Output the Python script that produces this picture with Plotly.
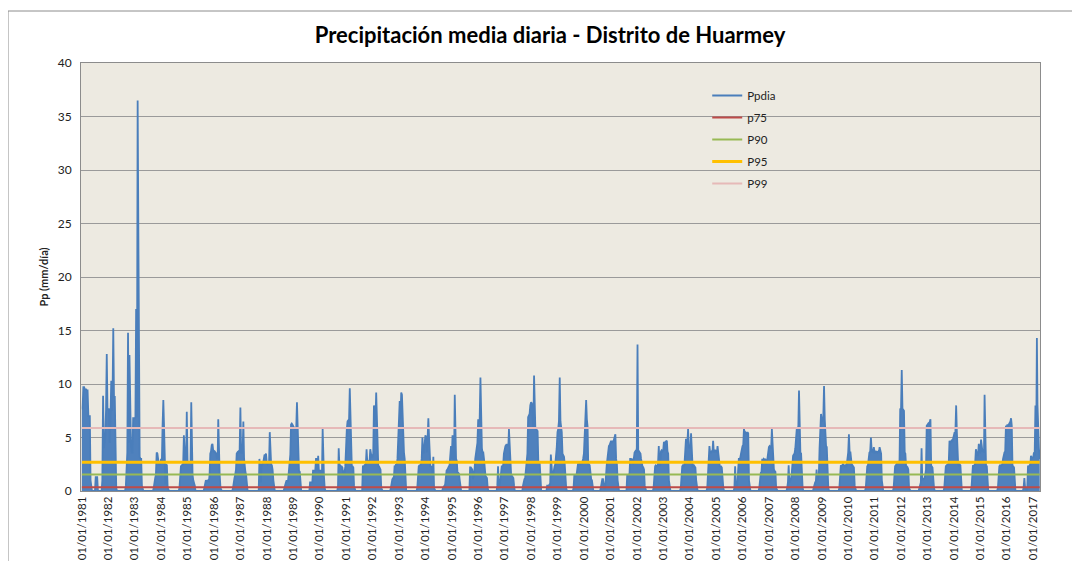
import datetime as dt
import plotly.graph_objects as go

# ---------------- data ----------------
# Wet-season envelopes of daily precipitation (mm/día), one value per dekad
# (days 1, 11, 21 of each month) starting at season_start; dry season ~0.
season_start = [
    "1981-01-01", "1981-07-11", "1981-10-11", "1982-09-01", "1983-09-21",
    "1984-09-11", "1985-08-21", "1986-09-21", "1987-09-21", "1988-09-01",
    "1989-08-21", "1990-09-11", "1991-08-21", "1992-09-11", "1993-09-11",
    "1994-09-01", "1995-09-11", "1996-09-21", "1997-09-11", "1998-08-11",
    "1999-08-11", "2000-08-21", "2001-08-21", "2002-08-21", "2003-09-01",
    "2004-09-01", "2005-09-11", "2006-08-21", "2007-09-11", "2008-09-11",
    "2009-09-01", "2010-09-01", "2011-09-21", "2012-09-11", "2013-08-21",
    "2014-09-01", "2015-09-01", "2016-08-21",
]
season_values = [
    [7.7, 7.7, 9.7, 9.7, 9.5, 9.5, 9.5, 9.4, 9.4, 7.0, 7.0, 7.0, 1.0, 0.0],
    [1.3, 1.3, 1.3, 0.0],
    [1.0, 8.9, 4.0, 4.5, 5.0, 7.6, 12.8, 7.7, 7.6, 7.7, 4.5, 7.0, 10.3, 7.5, 8.8, 15.2, 8.8, 8.8, 3.0, 0.3, 0.0],
    [0.5, 3.6, 3.6, 14.8, 4.5, 12.7, 4.5, 4.2, 3.6, 3.6, 6.8, 6.8, 6.8, 6.9, 17.0, 6.9, 36.5, 23.9, 9.7, 3.2, 3.0, 3.0, 0.5, 0.0],
    [0.3, 1.2, 1.2, 1.5, 3.6, 3.5, 2.5, 2.5, 2.5, 2.6, 3.0, 2.6, 6.0, 8.5, 6.0, 2.0, 0.6, 2.5, 2.4, 0.3, 0.0],
    [0.3, 2.3, 2.3, 2.4, 2.5, 2.5, 5.2, 2.5, 2.5, 2.6, 7.4, 2.6, 2.6, 2.7, 2.6, 2.6, 8.3, 2.6, 1.5, 1.0, 0.8, 0.5, 0.0],
    [0.3, 1.0, 1.0, 0.9, 1.0, 1.0, 0.8, 1.5, 3.5, 3.7, 4.3, 4.4, 3.8, 3.6, 3.7, 3.6, 3.5, 3.0, 3.2, 6.7, 3.0, 1.5, 0.3, 0.0],
    [0.3, 1.0, 1.2, 1.5, 2.0, 3.5, 3.6, 3.5, 3.8, 3.6, 7.8, 3.6, 3.5, 3.7, 6.5, 3.0, 2.0, 1.8, 1.5, 0.3, 0.0],
    [3.0, 0.8, 0.8, 2.5, 2.5, 2.6, 3.3, 3.4, 3.3, 3.5, 2.6, 2.5, 2.6, 2.6, 5.5, 2.5, 2.5, 2.4, 2.0, 1.0, 0.3, 0.0],
    [0.3, 0.8, 0.8, 1.0, 0.8, 1.0, 2.0, 3.3, 3.4, 6.2, 6.3, 6.2, 6.0, 5.9, 5.8, 5.8, 5.9, 8.3, 5.8, 5.0, 1.9, 1.8, 0.8, 0.0],
    [0.8, 0.8, 0.8, 0.8, 1.9, 1.9, 1.9, 1.9, 3.0, 3.0, 1.9, 3.3, 1.9, 1.9, 1.9, 1.4, 1.4, 5.8, 1.4, 1.4, 0.3, 0.0],
    [0.5, 4.0, 2.3, 2.4, 2.3, 2.3, 2.2, 1.7, 1.8, 1.7, 2.3, 5.0, 5.8, 6.5, 6.7, 6.7, 9.6, 7.5, 2.4, 2.3, 2.3, 2.2, 0.5, 0.0],
    [2.3, 2.3, 2.4, 2.3, 2.5, 3.9, 2.7, 2.7, 2.8, 2.7, 3.9, 3.1, 3.1, 3.2, 3.5, 8.0, 6.7, 6.6, 9.2, 6.7, 3.8, 2.3, 2.3, 2.2, 2.0, 0.3, 0.0],
    [0.3, 1.1, 1.1, 1.2, 1.1, 2.3, 2.3, 2.5, 2.4, 3.0, 5.5, 8.0, 8.4, 6.7, 9.2, 9.0, 6.7, 5.0, 3.6, 3.0, 0.5, 0.0],
    [0.3, 2.3, 2.3, 2.4, 2.4, 2.5, 3.0, 5.0, 3.5, 3.6, 5.0, 5.2, 5.0, 3.6, 5.0, 6.8, 5.0, 3.6, 2.3, 2.3, 2.2, 1.5, 3.2, 0.3, 0.0],
    [0.3, 0.5, 0.5, 0.6, 1.9, 1.9, 2.0, 2.3, 2.3, 2.4, 3.0, 4.2, 3.0, 5.2, 3.0, 3.0, 9.0, 3.0, 3.0, 2.8, 1.7, 1.7, 1.6, 1.0, 0.3, 0.0],
    [2.2, 2.2, 2.1, 2.0, 1.1, 1.5, 2.0, 3.0, 3.9, 4.0, 4.5, 6.7, 6.5, 6.6, 10.6, 6.1, 4.0, 3.6, 3.6, 3.0, 1.4, 1.4, 1.3, 1.2, 0.3, 0.0],
    [0.5, 2.3, 0.6, 0.5, 1.0, 2.0, 2.3, 2.3, 2.4, 3.5, 4.2, 4.2, 4.3, 4.2, 4.4, 4.2, 5.8, 4.2, 4.0, 1.4, 1.4, 1.3, 1.2, 0.5, 0.0],
    [0.5, 1.1, 1.1, 1.2, 2.3, 2.5, 3.5, 6.9, 7.0, 7.2, 8.0, 8.3, 8.2, 6.0, 5.8, 10.8, 5.8, 5.8, 5.8, 5.7, 5.6, 2.7, 2.7, 2.5, 0.5, 0.0],
    [0.5, 0.5, 0.5, 0.6, 0.5, 3.4, 1.4, 1.4, 1.5, 2.3, 2.3, 2.5, 3.0, 4.0, 5.5, 5.8, 6.5, 10.6, 6.5, 5.8, 5.5, 3.5, 3.3, 3.2, 2.5, 1.0, 0.3, 0.0],
    [0.3, 1.4, 1.4, 1.4, 1.5, 2.5, 2.5, 2.5, 2.6, 2.5, 2.6, 2.5, 2.7, 3.0, 3.5, 5.2, 5.5, 8.5, 6.7, 6.0, 2.5, 2.5, 2.4, 1.1, 1.1, 1.0, 0.3, 0.0],
    [0.3, 1.1, 1.1, 1.1, 0.3, 0.2, 0.3, 2.3, 2.4, 3.0, 4.0, 4.2, 4.3, 4.5, 4.7, 4.5, 4.7, 4.6, 4.8, 5.0, 5.3, 3.0, 2.5, 1.0, 0.3, 0.0],
    [1.4, 1.4, 1.5, 1.4, 3.0, 3.0, 2.9, 3.0, 2.5, 3.6, 3.6, 3.7, 3.6, 4.0, 13.7, 3.6, 3.7, 3.6, 3.5, 3.0, 2.3, 2.3, 2.2, 2.0, 0.5, 0.0],
    [0.3, 2.3, 2.3, 2.4, 2.3, 2.3, 2.5, 4.2, 2.4, 2.4, 3.7, 3.8, 3.7, 3.8, 4.6, 3.8, 4.6, 4.7, 4.7, 3.7, 3.5, 1.0, 0.3, 0.0],
    [0.3, 2.3, 2.3, 2.4, 2.3, 2.4, 4.5, 4.8, 4.8, 4.5, 5.8, 4.0, 4.2, 4.0, 5.4, 3.0, 2.3, 2.3, 2.4, 2.3, 2.2, 1.0, 0.3, 0.0],
    [0.3, 2.3, 2.4, 4.2, 3.6, 3.6, 3.7, 3.6, 4.7, 3.6, 3.8, 3.8, 3.7, 3.6, 4.2, 3.5, 2.5, 2.3, 2.3, 2.3, 2.2, 1.0, 0.3, 0.0],
    [0.3, 2.3, 0.5, 0.5, 0.6, 2.0, 3.0, 3.0, 3.1, 3.5, 4.0, 4.2, 4.3, 5.8, 5.5, 5.5, 5.4, 5.3, 5.5, 5.4, 1.0, 0.3, 0.0],
    [0.3, 1.7, 1.7, 1.8, 3.0, 2.9, 3.0, 2.9, 3.0, 2.8, 2.5, 3.0, 4.0, 4.1, 4.2, 4.1, 4.0, 5.8, 4.1, 2.0, 2.0, 1.9, 1.8, 0.3, 0.0],
    [0.3, 0.8, 2.4, 0.8, 1.1, 1.1, 1.5, 3.3, 3.3, 3.4, 3.5, 4.0, 5.8, 5.8, 5.9, 5.8, 9.4, 3.6, 3.6, 3.5, 1.0, 0.3, 0.0],
    [0.3, 0.8, 0.8, 0.9, 2.0, 1.0, 1.2, 1.5, 4.0, 6.5, 7.2, 6.7, 6.6, 6.7, 9.8, 6.7, 4.2, 4.2, 4.1, 1.0, 0.3, 0.0],
    [0.3, 2.3, 2.4, 2.3, 2.4, 2.5, 2.4, 2.3, 2.4, 2.3, 2.4, 3.0, 3.6, 5.3, 3.6, 3.6, 2.3, 2.3, 2.4, 2.3, 2.2, 0.5, 0.0],
    [0.3, 2.3, 2.3, 2.4, 3.6, 3.6, 3.7, 5.0, 3.8, 3.6, 3.7, 4.1, 3.6, 3.6, 3.7, 3.6, 3.6, 3.7, 3.6, 4.1, 3.6, 3.5, 1.0, 0.3, 0.0],
    [0.3, 2.3, 2.3, 2.4, 2.5, 2.7, 2.7, 2.6, 2.7, 7.7, 7.6, 11.3, 7.7, 7.6, 7.5, 3.6, 3.5, 2.3, 2.3, 2.2, 2.0, 0.3, 0.0],
    [0.3, 0.8, 0.8, 4.0, 1.1, 1.1, 1.2, 1.2, 1.5, 2.0, 6.1, 6.2, 6.3, 6.2, 6.5, 6.7, 2.3, 2.3, 2.2, 1.0, 0.3, 0.0],
    [0.3, 2.3, 2.3, 2.4, 2.5, 2.5, 2.5, 4.7, 4.5, 4.6, 4.7, 4.6, 5.0, 5.5, 5.5, 5.4, 8.0, 5.5, 2.5, 2.5, 2.4, 2.5, 2.4, 0.5, 0.0],
    [0.3, 2.3, 2.4, 2.3, 2.4, 2.5, 3.9, 3.3, 3.3, 3.4, 4.4, 3.5, 3.6, 4.8, 3.8, 3.6, 3.7, 3.6, 9.0, 3.6, 2.3, 2.3, 0.5, 0.0],
    [0.3, 2.3, 2.3, 2.4, 2.3, 2.4, 2.5, 3.0, 3.6, 3.6, 3.7, 6.1, 6.0, 6.2, 6.1, 6.2, 6.3, 6.5, 6.8, 6.1, 2.3, 2.3, 2.2, 0.5, 0.0],
    [0.3, 1.2, 0.3, 0.0, 0.0, 0.3, 2.3, 2.3, 2.4, 2.3, 3.3, 3.0, 3.2, 3.1, 3.6, 3.3, 8.0, 4.0, 14.3, 8.1, 4.5, 4.0, 3.0],
]
series_first = "1981-01-01"
series_last = "2017-04-01"

percentile_names = ["p75", "P90", "P95", "P99"]
percentile_values = [0.35, 1.55, 2.68, 5.88]

year_ticks = list(range(1981, 2018))
tick_labels = ["01/01/%d" % y for y in year_ticks]

title_text = "Precipitación media diaria - Distrito de Huarmey"
y_title = "Pp (mm/día)"

# ---------------- build dekad series ----------------
def dekad_range(start, end):
    d = start
    out = []
    while d <= end:
        out.append(d)
        if d.day == 1:
            d = d.replace(day=11)
        elif d.day == 11:
            d = d.replace(day=21)
        else:
            d = (d.replace(day=1) + dt.timedelta(days=32)).replace(day=1)
    return out

timeline = dekad_range(dt.date.fromisoformat(series_first), dt.date.fromisoformat(series_last))
pos = {d: i for i, d in enumerate(timeline)}
pp = [0.0] * len(timeline)
for s, vals in zip(season_start, season_values):
    i0 = pos[dt.date.fromisoformat(s)]
    for k, v in enumerate(vals):
        if i0 + k < len(pp):
            pp[i0 + k] = v
dates = [d.isoformat() for d in timeline]

# ---------------- figure ----------------
BLUE = "#4A7EBB"
pct_colors = ["#BE4B48", "#98B954", "#FFC000", "#E6B9B8"]
pct_widths = [2, 2, 3, 2]
FONT = "Lato, 'Open Sans', sans-serif"

# page body has an 8px default margin -> figure is drawn 8px right/down
W, H = 1072, 553
L, R, T, B = 73, 40, 55, 70

fig = go.Figure()
fig.add_trace(go.Scatter(
    x=dates, y=pp, mode="lines", fill="tozeroy", fillcolor="#4F81BD",
    line=dict(color=BLUE, width=0), showlegend=False, hoverinfo="skip",
    legendgroup="g0",
))
fig.add_trace(go.Scatter(
    x=dates, y=pp, mode="lines", name="Ppdia",
    line=dict(color=BLUE, width=1.8), legendgroup="g0",
))
for i, (nm, val, col, w) in enumerate(zip(percentile_names, percentile_values, pct_colors, pct_widths)):
    fig.add_trace(go.Scatter(
        x=[dates[0], dates[-1]], y=[val, val], mode="lines", name=nm,
        line=dict(color=col, width=w), legendgroup="g%d" % (i + 1),
    ))

fig.update_layout(
    width=W, height=H,
    margin=dict(l=L, r=R, t=T, b=B, autoexpand=False),
    paper_bgcolor="white",
    plot_bgcolor="#EDEAE1",
    font=dict(family=FONT, size=12, color="#222222"),
    title=dict(text="<b>%s</b>" % title_text, x=542 / W, xref="container",
               y=1 - 27 / H, yref="container", xanchor="center", yanchor="middle",
               font=dict(family=FONT, size=22, color="#000000")),
    legend=dict(x=0.653, y=0.958, xanchor="left", yanchor="top",
                bgcolor="rgba(0,0,0,0)", font=dict(family=FONT, size=11.5, color="#222222"),
                traceorder="grouped", tracegroupgap=3, itemwidth=30),
    showlegend=True,
)
fig.update_xaxes(
    type="date",
    range=["1980-12-20", "2017-04-05"],
    tickmode="array",
    tickvals=["%d-01-01" % y for y in year_ticks],
    ticktext=tick_labels,
    tickangle=-90,
    tickfont=dict(family=FONT, size=11.5, color="#222222"),
    showgrid=False, automargin=False,
    showline=True, linecolor="#8C8C8C", linewidth=1, mirror=True,
    ticks="", zeroline=False,
)
fig.update_yaxes(
    range=[0, 40], dtick=5, automargin=False,
    showgrid=True, gridcolor="#9A9A9A", gridwidth=1,
    showline=True, linecolor="#8C8C8C", linewidth=1, mirror=True,
    zeroline=False, ticks="", ticklabelstandoff=6,
    tickfont=dict(family=FONT, size=12, color="#222222"),
    title=dict(text="<b>%s</b>" % y_title, standoff=6,
               font=dict(family=FONT, size=11, color="#222222")),
)
# outer chart-area border (screen x=8, y=11)
pw, ph = W - L - R, H - T - B
fig.add_shape(type="rect", xref="paper", yref="paper",
              x0=(0 - L) / pw, x1=(W + 10 - L) / pw,
              y0=(ph + T - (H + 20)) / ph, y1=(ph + T - 3) / ph,
              line=dict(color="#8C8C8C", width=1), fillcolor="rgba(0,0,0,0)", layer="below")

fig.write_html("out.html")
